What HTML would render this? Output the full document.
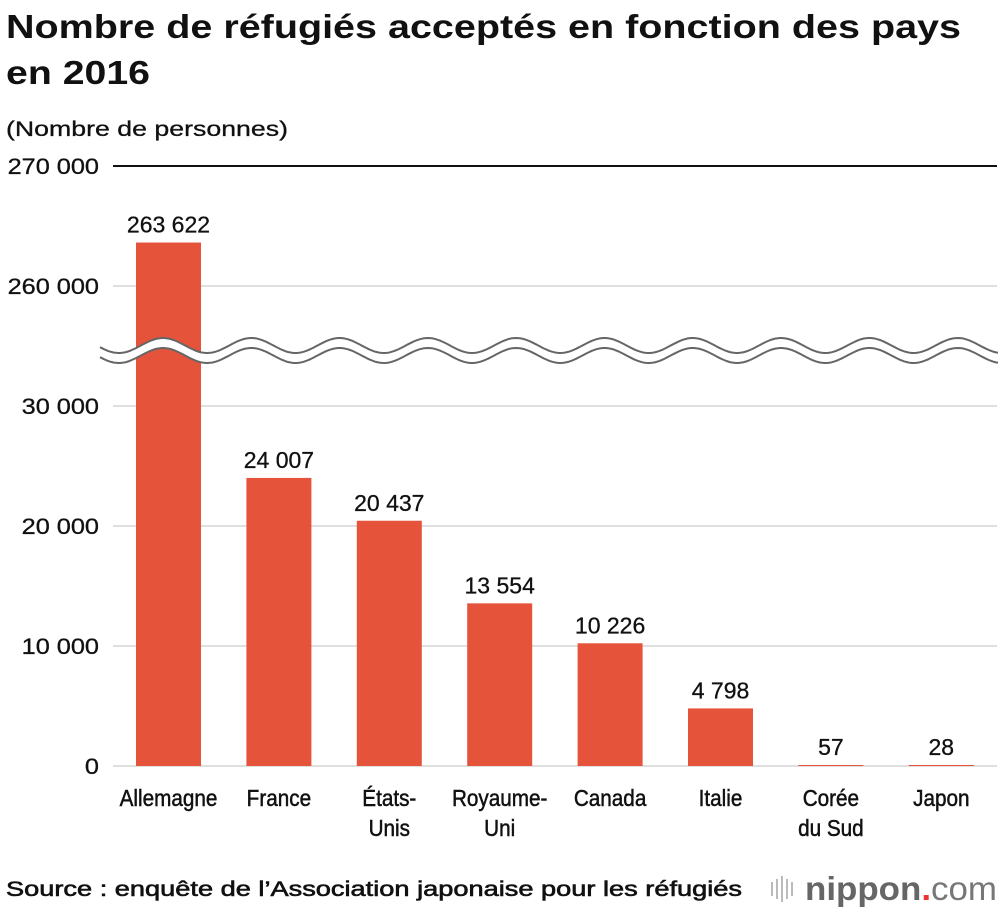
<!DOCTYPE html>
<html><head><meta charset="utf-8"><style>
body{margin:0;background:#fff;font-family:"Liberation Sans",sans-serif;}
svg text{font-family:"Liberation Sans",sans-serif;}
</style></head><body>
<svg width="1000" height="910" viewBox="0 0 1000 910" xmlns="http://www.w3.org/2000/svg">
<text x="6" y="38" font-size="33" font-weight="bold" fill="#111" textLength="955" lengthAdjust="spacingAndGlyphs">Nombre de réfugiés acceptés en fonction des pays</text>
<text x="6" y="84" font-size="33" font-weight="bold" fill="#111" textLength="144" lengthAdjust="spacingAndGlyphs">en 2016</text>
<text x="6" y="136" font-size="21" fill="#111" stroke="#111" stroke-width="0.3" textLength="282" lengthAdjust="spacingAndGlyphs">(Nombre de personnes)</text>
<g id="grid"></g>
<g id="bars"></g>
<g id="brk"></g>
<g id="labels"></g>
<text x="6" y="896" font-size="21" fill="#111" stroke="#111" stroke-width="0.6" textLength="736" lengthAdjust="spacingAndGlyphs">Source : enquête de l’Association japonaise pour les réfugiés</text>
<g>
<g stroke="#bbb" stroke-width="2">
<line x1="772" y1="882" x2="772" y2="896"/><line x1="777" y1="879" x2="777" y2="899"/><line x1="782" y1="876" x2="782" y2="902"/><line x1="787" y1="879" x2="787" y2="899"/><line x1="792" y1="882" x2="792" y2="896"/>
</g>
<text x="805" y="900" font-size="33" font-weight="bold" fill="#666" textLength="192" lengthAdjust="spacingAndGlyphs">nippon<tspan fill="#e33">.</tspan><tspan font-weight="normal" fill="#777">com</tspan></text>
</g>
</svg>
<script>
const categories=["Allemagne","France","États-\nUnis","Royaume-\nUni","Canada","Italie","Corée\ndu Sud","Japon"];
const values=[263622,24007,20437,13554,10226,4798,57,28];
const valueLabels=["263 622","24 007","20 437","13 554","10 226","4 798","57","28"];
const lowTicks=[0,10000,20000,30000];
const highTicks=[260000,270000];
const lowTickLabels=["0","10 000","20 000","30 000"];
const highTickLabels=["260 000","270 000"];
const NS="http://www.w3.org/2000/svg";
function y(v){ return v>=100000 ? 286-(v-260000)*0.012 : 766-v*0.012; }
function xc(i){ return 168.5+i*110.4; }
function mk(tag,attrs,parent){const e=document.createElementNS(NS,tag);for(const k in attrs)e.setAttribute(k,attrs[k]);document.getElementById(parent).appendChild(e);return e;}
const ticks=lowTicks.concat(highTicks), tl=lowTickLabels.concat(highTickLabels);
ticks.forEach((t,i)=>{
 const l=mk("line",{x1:113,x2:997,y1:y(t),y2:y(t),stroke:t===270000?"#111":"#ccc","stroke-width":t===270000?2:1.2},"grid");
 
 
 const tx=mk("text",{x:99,y:y(t)+8,"font-size":22,"text-anchor":"end",fill:"#111",stroke:"#111","stroke-width":0.3,transform:"translate(99,0) scale(1.15,1) translate(-99,0)"},"grid");
 tx.textContent=tl[i];
 
 
});
values.forEach((v,i)=>{
 const top=y(v), h=Math.max(766-top,1);
 const r=mk("rect",{x:xc(i)-32.5,y:766-h,width:65,height:h,fill:"#e5533b"},"bars");
 
 
 const t=mk("text",{x:xc(i),y:766-h-10,"font-size":23,"text-anchor":"middle",fill:"#111",stroke:"#111","stroke-width":0.3},"labels");
 t.textContent=valueLabels[i];
 
 
 categories[i].split("\n").forEach((ln,j)=>{
  const c=mk("text",{x:xc(i),y:806+j*30,"font-size":23,"text-anchor":"middle",fill:"#111",stroke:"#111","stroke-width":0.5,transform:"translate("+xc(i)+",0) scale(0.9,1) translate("+(-xc(i))+",0)"},"labels");
  c.textContent=ln;
  
  
 });
});
// axis break
const P=88.3;
function wave(off){let d="";for(let x=100;x<=998;x+=2){const yy=off-7.5*Math.cos((x-163)/P*2*Math.PI);d+=(x===100?"M":"L")+x+","+yy.toFixed(1);}return d;}
let fill=wave(345.5);
for(let x=998;x>=100;x-=2){fill+="L"+x+","+(355.5-7.5*Math.cos((x-163)/P*2*Math.PI)).toFixed(1);}
const f=mk("path",{d:fill+"Z",fill:"#fff"},"brk");


[345.5,355.5].forEach(o=>{const p=mk("path",{d:wave(o),fill:"none",stroke:"#666","stroke-width":2},"brk");

});
</script>
</body></html>
